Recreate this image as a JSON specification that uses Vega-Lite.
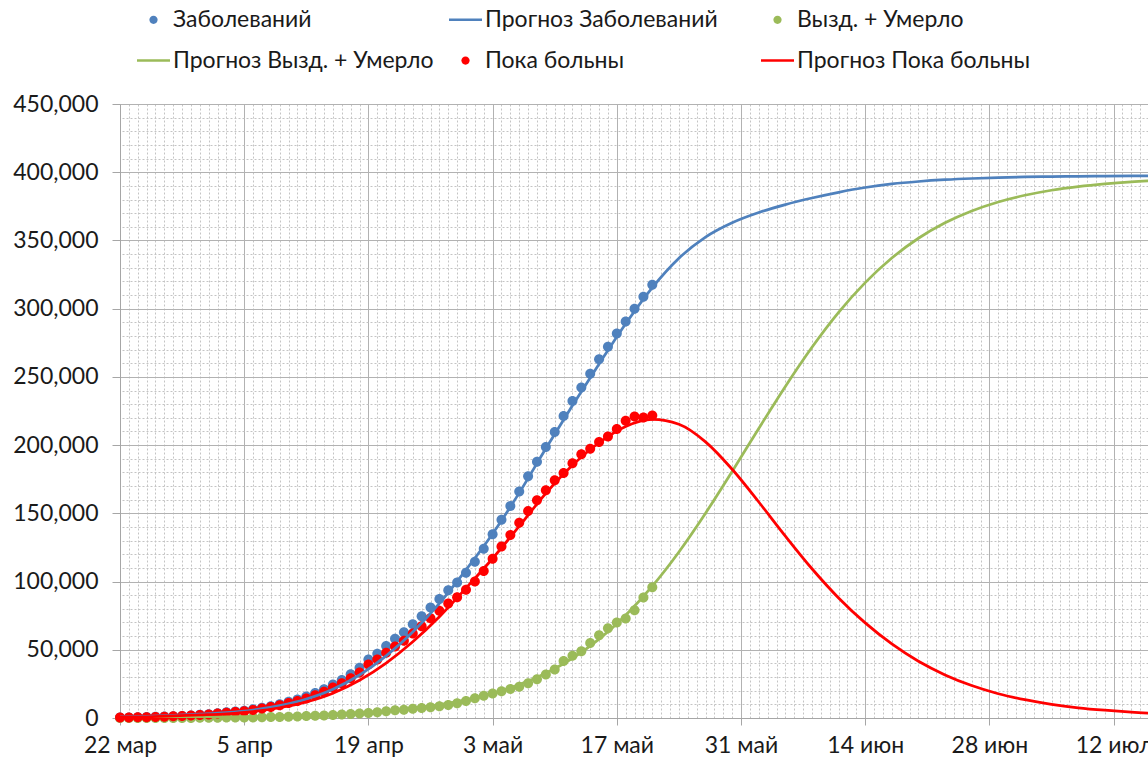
{
  "$schema": "https://vega.github.io/schema/vega-lite/v6.json",
  "width": 1028,
  "height": 614,
  "autosize": {"type": "none"},
  "padding": {"left": 120, "top": 104, "right": 0, "bottom": 44},
  "background": "white",
  "config": {
    "font": "Lato",
    "view": {"stroke": null},
    "axis": {"labelFont": "Lato", "labelFontSize": 23, "labelColor": "#1a1a1a", "domainColor": "#a6a6a6", "tickColor": "#a6a6a6", "gridColor": "#b2b2b2", "gridWidth": 1}
  },
  "datasets": {
    "obs": [
      {"d": "2020-03-22", "s": "Заболеваний", "v": 367},
      {"d": "2020-03-23", "s": "Заболеваний", "v": 438},
      {"d": "2020-03-24", "s": "Заболеваний", "v": 495},
      {"d": "2020-03-25", "s": "Заболеваний", "v": 658},
      {"d": "2020-03-26", "s": "Заболеваний", "v": 840},
      {"d": "2020-03-27", "s": "Заболеваний", "v": 1036},
      {"d": "2020-03-28", "s": "Заболеваний", "v": 1264},
      {"d": "2020-03-29", "s": "Заболеваний", "v": 1534},
      {"d": "2020-03-30", "s": "Заболеваний", "v": 1836},
      {"d": "2020-03-31", "s": "Заболеваний", "v": 2337},
      {"d": "2020-04-01", "s": "Заболеваний", "v": 2777},
      {"d": "2020-04-02", "s": "Заболеваний", "v": 3548},
      {"d": "2020-04-03", "s": "Заболеваний", "v": 4149},
      {"d": "2020-04-04", "s": "Заболеваний", "v": 4731},
      {"d": "2020-04-05", "s": "Заболеваний", "v": 5389},
      {"d": "2020-04-06", "s": "Заболеваний", "v": 6343},
      {"d": "2020-04-07", "s": "Заболеваний", "v": 7497},
      {"d": "2020-04-08", "s": "Заболеваний", "v": 8672},
      {"d": "2020-04-09", "s": "Заболеваний", "v": 10131},
      {"d": "2020-04-10", "s": "Заболеваний", "v": 11917},
      {"d": "2020-04-11", "s": "Заболеваний", "v": 13584},
      {"d": "2020-04-12", "s": "Заболеваний", "v": 15770},
      {"d": "2020-04-13", "s": "Заболеваний", "v": 18328},
      {"d": "2020-04-14", "s": "Заболеваний", "v": 21102},
      {"d": "2020-04-15", "s": "Заболеваний", "v": 24490},
      {"d": "2020-04-16", "s": "Заболеваний", "v": 27938},
      {"d": "2020-04-17", "s": "Заболеваний", "v": 32008},
      {"d": "2020-04-18", "s": "Заболеваний", "v": 36793},
      {"d": "2020-04-19", "s": "Заболеваний", "v": 42853},
      {"d": "2020-04-20", "s": "Заболеваний", "v": 47121},
      {"d": "2020-04-21", "s": "Заболеваний", "v": 52763},
      {"d": "2020-04-22", "s": "Заболеваний", "v": 57999},
      {"d": "2020-04-23", "s": "Заболеваний", "v": 62773},
      {"d": "2020-04-24", "s": "Заболеваний", "v": 68622},
      {"d": "2020-04-25", "s": "Заболеваний", "v": 74588},
      {"d": "2020-04-26", "s": "Заболеваний", "v": 80949},
      {"d": "2020-04-27", "s": "Заболеваний", "v": 87147},
      {"d": "2020-04-28", "s": "Заболеваний", "v": 93558},
      {"d": "2020-04-29", "s": "Заболеваний", "v": 99399},
      {"d": "2020-04-30", "s": "Заболеваний", "v": 106498},
      {"d": "2020-05-01", "s": "Заболеваний", "v": 114431},
      {"d": "2020-05-02", "s": "Заболеваний", "v": 124054},
      {"d": "2020-05-03", "s": "Заболеваний", "v": 134687},
      {"d": "2020-05-04", "s": "Заболеваний", "v": 145268},
      {"d": "2020-05-05", "s": "Заболеваний", "v": 155370},
      {"d": "2020-05-06", "s": "Заболеваний", "v": 165929},
      {"d": "2020-05-07", "s": "Заболеваний", "v": 177160},
      {"d": "2020-05-08", "s": "Заболеваний", "v": 187859},
      {"d": "2020-05-09", "s": "Заболеваний", "v": 198676},
      {"d": "2020-05-10", "s": "Заболеваний", "v": 209688},
      {"d": "2020-05-11", "s": "Заболеваний", "v": 221344},
      {"d": "2020-05-12", "s": "Заболеваний", "v": 232243},
      {"d": "2020-05-13", "s": "Заболеваний", "v": 242271},
      {"d": "2020-05-14", "s": "Заболеваний", "v": 252245},
      {"d": "2020-05-15", "s": "Заболеваний", "v": 262843},
      {"d": "2020-05-16", "s": "Заболеваний", "v": 272043},
      {"d": "2020-05-17", "s": "Заболеваний", "v": 281752},
      {"d": "2020-05-18", "s": "Заболеваний", "v": 290678},
      {"d": "2020-05-19", "s": "Заболеваний", "v": 299941},
      {"d": "2020-05-20", "s": "Заболеваний", "v": 308705},
      {"d": "2020-05-21", "s": "Заболеваний", "v": 317554},
      {"d": "2020-03-22", "s": "Вызд. + Умерло", "v": 17},
      {"d": "2020-03-23", "s": "Вызд. + Умерло", "v": 18},
      {"d": "2020-03-24", "s": "Вызд. + Умерло", "v": 23},
      {"d": "2020-03-25", "s": "Вызд. + Умерло", "v": 32},
      {"d": "2020-03-26", "s": "Вызд. + Умерло", "v": 41},
      {"d": "2020-03-27", "s": "Вызд. + Умерло", "v": 48},
      {"d": "2020-03-28", "s": "Вызд. + Умерло", "v": 53},
      {"d": "2020-03-29", "s": "Вызд. + Умерло", "v": 72},
      {"d": "2020-03-30", "s": "Вызд. + Умерло", "v": 75},
      {"d": "2020-03-31", "s": "Вызд. + Умерло", "v": 138},
      {"d": "2020-04-01", "s": "Вызд. + Умерло", "v": 214},
      {"d": "2020-04-02", "s": "Вызд. + Умерло", "v": 265},
      {"d": "2020-04-03", "s": "Вызд. + Умерло", "v": 315},
      {"d": "2020-04-04", "s": "Вызд. + Умерло", "v": 376},
      {"d": "2020-04-05", "s": "Вызд. + Умерло", "v": 400},
      {"d": "2020-04-06", "s": "Вызд. + Умерло", "v": 453},
      {"d": "2020-04-07", "s": "Вызд. + Умерло", "v": 552},
      {"d": "2020-04-08", "s": "Вызд. + Умерло", "v": 643},
      {"d": "2020-04-09", "s": "Вызд. + Умерло", "v": 774},
      {"d": "2020-04-10", "s": "Вызд. + Умерло", "v": 889},
      {"d": "2020-04-11", "s": "Вызд. + Умерло", "v": 1151},
      {"d": "2020-04-12", "s": "Вызд. + Умерло", "v": 1421},
      {"d": "2020-04-13", "s": "Вызд. + Умерло", "v": 1618},
      {"d": "2020-04-14", "s": "Вызд. + Умерло", "v": 1864},
      {"d": "2020-04-15", "s": "Вызд. + Умерло", "v": 2184},
      {"d": "2020-04-16", "s": "Вызд. + Умерло", "v": 2536},
      {"d": "2020-04-17", "s": "Вызд. + Умерло", "v": 2863},
      {"d": "2020-04-18", "s": "Вызд. + Умерло", "v": 3370},
      {"d": "2020-04-19", "s": "Вызд. + Умерло", "v": 3652},
      {"d": "2020-04-20", "s": "Вызд. + Умерло", "v": 4278},
      {"d": "2020-04-21", "s": "Вызд. + Умерло", "v": 4900},
      {"d": "2020-04-22", "s": "Вызд. + Умерло", "v": 5600},
      {"d": "2020-04-23", "s": "Вызд. + Умерло", "v": 6100},
      {"d": "2020-04-24", "s": "Вызд. + Умерло", "v": 6700},
      {"d": "2020-04-25", "s": "Вызд. + Умерло", "v": 7300},
      {"d": "2020-04-26", "s": "Вызд. + Умерло", "v": 7900},
      {"d": "2020-04-27", "s": "Вызд. + Умерло", "v": 8600},
      {"d": "2020-04-28", "s": "Вызд. + Умерло", "v": 9600},
      {"d": "2020-04-29", "s": "Вызд. + Умерло", "v": 10900},
      {"d": "2020-04-30", "s": "Вызд. + Умерло", "v": 12500},
      {"d": "2020-05-01", "s": "Вызд. + Умерло", "v": 14389},
      {"d": "2020-05-02", "s": "Вызд. + Умерло", "v": 16235},
      {"d": "2020-05-03", "s": "Вызд. + Умерло", "v": 17919},
      {"d": "2020-05-04", "s": "Вызд. + Умерло", "v": 19565},
      {"d": "2020-05-05", "s": "Вызд. + Умерло", "v": 21316},
      {"d": "2020-05-06", "s": "Вызд. + Умерло", "v": 22864},
      {"d": "2020-05-07", "s": "Вызд. + Умерло", "v": 25428},
      {"d": "2020-05-08", "s": "Вызд. + Умерло", "v": 28331},
      {"d": "2020-05-09", "s": "Вызд. + Умерло", "v": 31800},
      {"d": "2020-05-10", "s": "Вызд. + Умерло", "v": 35500},
      {"d": "2020-05-11", "s": "Вызд. + Умерло", "v": 41800},
      {"d": "2020-05-12", "s": "Вызд. + Умерло", "v": 45600},
      {"d": "2020-05-13", "s": "Вызд. + Умерло", "v": 49000},
      {"d": "2020-05-14", "s": "Вызд. + Умерло", "v": 55000},
      {"d": "2020-05-15", "s": "Вызд. + Умерло", "v": 60600},
      {"d": "2020-05-16", "s": "Вызд. + Умерло", "v": 65700},
      {"d": "2020-05-17", "s": "Вызд. + Умерло", "v": 70000},
      {"d": "2020-05-18", "s": "Вызд. + Умерло", "v": 72900},
      {"d": "2020-05-19", "s": "Вызд. + Умерло", "v": 79000},
      {"d": "2020-05-20", "s": "Вызд. + Умерло", "v": 88400},
      {"d": "2020-05-21", "s": "Вызд. + Умерло", "v": 95800},
      {"d": "2020-03-22", "s": "Пока больны", "v": 350},
      {"d": "2020-03-23", "s": "Пока больны", "v": 420},
      {"d": "2020-03-24", "s": "Пока больны", "v": 472},
      {"d": "2020-03-25", "s": "Пока больны", "v": 626},
      {"d": "2020-03-26", "s": "Пока больны", "v": 799},
      {"d": "2020-03-27", "s": "Пока больны", "v": 988},
      {"d": "2020-03-28", "s": "Пока больны", "v": 1211},
      {"d": "2020-03-29", "s": "Пока больны", "v": 1462},
      {"d": "2020-03-30", "s": "Пока больны", "v": 1761},
      {"d": "2020-03-31", "s": "Пока больны", "v": 2199},
      {"d": "2020-04-01", "s": "Пока больны", "v": 2563},
      {"d": "2020-04-02", "s": "Пока больны", "v": 3283},
      {"d": "2020-04-03", "s": "Пока больны", "v": 3834},
      {"d": "2020-04-04", "s": "Пока больны", "v": 4355},
      {"d": "2020-04-05", "s": "Пока больны", "v": 4989},
      {"d": "2020-04-06", "s": "Пока больны", "v": 5890},
      {"d": "2020-04-07", "s": "Пока больны", "v": 6945},
      {"d": "2020-04-08", "s": "Пока больны", "v": 8029},
      {"d": "2020-04-09", "s": "Пока больны", "v": 9357},
      {"d": "2020-04-10", "s": "Пока больны", "v": 11028},
      {"d": "2020-04-11", "s": "Пока больны", "v": 12433},
      {"d": "2020-04-12", "s": "Пока больны", "v": 14349},
      {"d": "2020-04-13", "s": "Пока больны", "v": 16710},
      {"d": "2020-04-14", "s": "Пока больны", "v": 19238},
      {"d": "2020-04-15", "s": "Пока больны", "v": 22306},
      {"d": "2020-04-16", "s": "Пока больны", "v": 25402},
      {"d": "2020-04-17", "s": "Пока больны", "v": 29145},
      {"d": "2020-04-18", "s": "Пока больны", "v": 33423},
      {"d": "2020-04-19", "s": "Пока больны", "v": 39201},
      {"d": "2020-04-20", "s": "Пока больны", "v": 42843},
      {"d": "2020-04-21", "s": "Пока больны", "v": 47863},
      {"d": "2020-04-22", "s": "Пока больны", "v": 52399},
      {"d": "2020-04-23", "s": "Пока больны", "v": 56673},
      {"d": "2020-04-24", "s": "Пока больны", "v": 61922},
      {"d": "2020-04-25", "s": "Пока больны", "v": 67288},
      {"d": "2020-04-26", "s": "Пока больны", "v": 73049},
      {"d": "2020-04-27", "s": "Пока больны", "v": 78547},
      {"d": "2020-04-28", "s": "Пока больны", "v": 83958},
      {"d": "2020-04-29", "s": "Пока больны", "v": 88499},
      {"d": "2020-04-30", "s": "Пока больны", "v": 93998},
      {"d": "2020-05-01", "s": "Пока больны", "v": 100042},
      {"d": "2020-05-02", "s": "Пока больны", "v": 107819},
      {"d": "2020-05-03", "s": "Пока больны", "v": 116768},
      {"d": "2020-05-04", "s": "Пока больны", "v": 125703},
      {"d": "2020-05-05", "s": "Пока больны", "v": 134054},
      {"d": "2020-05-06", "s": "Пока больны", "v": 143065},
      {"d": "2020-05-07", "s": "Пока больны", "v": 151732},
      {"d": "2020-05-08", "s": "Пока больны", "v": 159528},
      {"d": "2020-05-09", "s": "Пока больны", "v": 166876},
      {"d": "2020-05-10", "s": "Пока больны", "v": 174188},
      {"d": "2020-05-11", "s": "Пока больны", "v": 179544},
      {"d": "2020-05-12", "s": "Пока больны", "v": 186643},
      {"d": "2020-05-13", "s": "Пока больны", "v": 193271},
      {"d": "2020-05-14", "s": "Пока больны", "v": 197245},
      {"d": "2020-05-15", "s": "Пока больны", "v": 202243},
      {"d": "2020-05-16", "s": "Пока больны", "v": 206343},
      {"d": "2020-05-17", "s": "Пока больны", "v": 211752},
      {"d": "2020-05-18", "s": "Пока больны", "v": 217778},
      {"d": "2020-05-19", "s": "Пока больны", "v": 220941},
      {"d": "2020-05-20", "s": "Пока больны", "v": 220305},
      {"d": "2020-05-21", "s": "Пока больны", "v": 221754}
    ],
    "fc": [
      {"d": "2020-03-22", "s": "Прогноз Заболеваний", "v": 800},
      {"d": "2020-03-25", "s": "Прогноз Заболеваний", "v": 1200},
      {"d": "2020-03-28", "s": "Прогноз Заболеваний", "v": 1900},
      {"d": "2020-03-31", "s": "Прогноз Заболеваний", "v": 2800},
      {"d": "2020-04-03", "s": "Прогноз Заболеваний", "v": 3900},
      {"d": "2020-04-06", "s": "Прогноз Заболеваний", "v": 5800},
      {"d": "2020-04-09", "s": "Прогноз Заболеваний", "v": 9000},
      {"d": "2020-04-12", "s": "Прогноз Заболеваний", "v": 13800},
      {"d": "2020-04-15", "s": "Прогноз Заболеваний", "v": 21000},
      {"d": "2020-04-18", "s": "Прогноз Заболеваний", "v": 31500},
      {"d": "2020-04-21", "s": "Прогноз Заболеваний", "v": 45500},
      {"d": "2020-04-24", "s": "Прогноз Заболеваний", "v": 63000},
      {"d": "2020-04-27", "s": "Прогноз Заболеваний", "v": 84000},
      {"d": "2020-04-30", "s": "Прогноз Заболеваний", "v": 108500},
      {"d": "2020-05-03", "s": "Прогноз Заболеваний", "v": 135000},
      {"d": "2020-05-06", "s": "Прогноз Заболеваний", "v": 165000},
      {"d": "2020-05-09", "s": "Прогноз Заболеваний", "v": 197500},
      {"d": "2020-05-12", "s": "Прогноз Заболеваний", "v": 229000},
      {"d": "2020-05-15", "s": "Прогноз Заболеваний", "v": 259500},
      {"d": "2020-05-18", "s": "Прогноз Заболеваний", "v": 289000},
      {"d": "2020-05-21", "s": "Прогноз Заболеваний", "v": 315500},
      {"d": "2020-05-24", "s": "Прогноз Заболеваний", "v": 337000},
      {"d": "2020-05-27", "s": "Прогноз Заболеваний", "v": 352500},
      {"d": "2020-05-30", "s": "Прогноз Заболеваний", "v": 363000},
      {"d": "2020-06-02", "s": "Прогноз Заболеваний", "v": 370500},
      {"d": "2020-06-05", "s": "Прогноз Заболеваний", "v": 376300},
      {"d": "2020-06-08", "s": "Прогноз Заболеваний", "v": 381100},
      {"d": "2020-06-11", "s": "Прогноз Заболеваний", "v": 385300},
      {"d": "2020-06-14", "s": "Прогноз Заболеваний", "v": 388800},
      {"d": "2020-06-17", "s": "Прогноз Заболеваний", "v": 391400},
      {"d": "2020-06-20", "s": "Прогноз Заболеваний", "v": 393200},
      {"d": "2020-06-23", "s": "Прогноз Заболеваний", "v": 394500},
      {"d": "2020-06-26", "s": "Прогноз Заболеваний", "v": 395400},
      {"d": "2020-06-29", "s": "Прогноз Заболеваний", "v": 396000},
      {"d": "2020-07-02", "s": "Прогноз Заболеваний", "v": 396500},
      {"d": "2020-07-05", "s": "Прогноз Заболеваний", "v": 396800},
      {"d": "2020-07-08", "s": "Прогноз Заболеваний", "v": 397000},
      {"d": "2020-07-11", "s": "Прогноз Заболеваний", "v": 397200},
      {"d": "2020-07-14", "s": "Прогноз Заболеваний", "v": 397300},
      {"d": "2020-07-17", "s": "Прогноз Заболеваний", "v": 397400},
      {"d": "2020-03-22", "s": "Прогноз Вызд. + Умерло", "v": 221},
      {"d": "2020-03-25", "s": "Прогноз Вызд. + Умерло", "v": 303},
      {"d": "2020-03-28", "s": "Прогноз Вызд. + Умерло", "v": 417},
      {"d": "2020-03-31", "s": "Прогноз Вызд. + Умерло", "v": 573},
      {"d": "2020-04-03", "s": "Прогноз Вызд. + Умерло", "v": 787},
      {"d": "2020-04-06", "s": "Прогноз Вызд. + Умерло", "v": 1081},
      {"d": "2020-04-09", "s": "Прогноз Вызд. + Умерло", "v": 1483},
      {"d": "2020-04-12", "s": "Прогноз Вызд. + Умерло", "v": 2036},
      {"d": "2020-04-15", "s": "Прогноз Вызд. + Умерло", "v": 2793},
      {"d": "2020-04-18", "s": "Прогноз Вызд. + Умерло", "v": 3829},
      {"d": "2020-04-21", "s": "Прогноз Вызд. + Умерло", "v": 5242},
      {"d": "2020-04-24", "s": "Прогноз Вызд. + Умерло", "v": 7163},
      {"d": "2020-04-27", "s": "Прогноз Вызд. + Умерло", "v": 9785},
      {"d": "2020-04-30", "s": "Прогноз Вызд. + Умерло", "v": 13330},
      {"d": "2020-05-03", "s": "Прогноз Вызд. + Умерло", "v": 18090},
      {"d": "2020-05-06", "s": "Прогноз Вызд. + Умерло", "v": 24440},
      {"d": "2020-05-09", "s": "Прогноз Вызд. + Умерло", "v": 32830},
      {"d": "2020-05-12", "s": "Прогноз Вызд. + Умерло", "v": 43780},
      {"d": "2020-05-15", "s": "Прогноз Вызд. + Умерло", "v": 57780},
      {"d": "2020-05-18", "s": "Прогноз Вызд. + Умерло", "v": 75300},
      {"d": "2020-05-21", "s": "Прогноз Вызд. + Умерло", "v": 96640},
      {"d": "2020-05-24", "s": "Прогноз Вызд. + Умерло", "v": 121700},
      {"d": "2020-05-27", "s": "Прогноз Вызд. + Умерло", "v": 150100},
      {"d": "2020-05-30", "s": "Прогноз Вызд. + Умерло", "v": 180700},
      {"d": "2020-06-02", "s": "Прогноз Вызд. + Умерло", "v": 212200},
      {"d": "2020-06-05", "s": "Прогноз Вызд. + Умерло", "v": 243000},
      {"d": "2020-06-08", "s": "Прогноз Вызд. + Умерло", "v": 271700},
      {"d": "2020-06-11", "s": "Прогноз Вызд. + Умерло", "v": 297300},
      {"d": "2020-06-14", "s": "Прогноз Вызд. + Умерло", "v": 319100},
      {"d": "2020-06-17", "s": "Прогноз Вызд. + Умерло", "v": 337100},
      {"d": "2020-06-20", "s": "Прогноз Вызд. + Умерло", "v": 351600},
      {"d": "2020-06-23", "s": "Прогноз Вызд. + Умерло", "v": 362900},
      {"d": "2020-06-26", "s": "Прогноз Вызд. + Умерло", "v": 371600},
      {"d": "2020-06-29", "s": "Прогноз Вызд. + Умерло", "v": 378200},
      {"d": "2020-07-02", "s": "Прогноз Вызд. + Умерло", "v": 383100},
      {"d": "2020-07-05", "s": "Прогноз Вызд. + Умерло", "v": 386800},
      {"d": "2020-07-08", "s": "Прогноз Вызд. + Умерло", "v": 389500},
      {"d": "2020-07-11", "s": "Прогноз Вызд. + Умерло", "v": 391500},
      {"d": "2020-07-14", "s": "Прогноз Вызд. + Умерло", "v": 393000},
      {"d": "2020-07-17", "s": "Прогноз Вызд. + Умерло", "v": 394100},
      {"d": "2020-03-22", "s": "Прогноз Пока больны", "v": 579},
      {"d": "2020-03-25", "s": "Прогноз Пока больны", "v": 897},
      {"d": "2020-03-28", "s": "Прогноз Пока больны", "v": 1483},
      {"d": "2020-03-31", "s": "Прогноз Пока больны", "v": 2227},
      {"d": "2020-04-03", "s": "Прогноз Пока больны", "v": 3113},
      {"d": "2020-04-06", "s": "Прогноз Пока больны", "v": 4719},
      {"d": "2020-04-09", "s": "Прогноз Пока больны", "v": 7517},
      {"d": "2020-04-12", "s": "Прогноз Пока больны", "v": 11764},
      {"d": "2020-04-15", "s": "Прогноз Пока больны", "v": 18207},
      {"d": "2020-04-18", "s": "Прогноз Пока больны", "v": 27671},
      {"d": "2020-04-21", "s": "Прогноз Пока больны", "v": 40258},
      {"d": "2020-04-24", "s": "Прогноз Пока больны", "v": 55837},
      {"d": "2020-04-27", "s": "Прогноз Пока больны", "v": 74215},
      {"d": "2020-04-30", "s": "Прогноз Пока больны", "v": 95170},
      {"d": "2020-05-03", "s": "Прогноз Пока больны", "v": 116910},
      {"d": "2020-05-06", "s": "Прогноз Пока больны", "v": 140560},
      {"d": "2020-05-09", "s": "Прогноз Пока больны", "v": 164670},
      {"d": "2020-05-12", "s": "Прогноз Пока больны", "v": 185220},
      {"d": "2020-05-15", "s": "Прогноз Пока больны", "v": 201720},
      {"d": "2020-05-18", "s": "Прогноз Пока больны", "v": 213700},
      {"d": "2020-05-21", "s": "Прогноз Пока больны", "v": 218860},
      {"d": "2020-05-24", "s": "Прогноз Пока больны", "v": 215300},
      {"d": "2020-05-27", "s": "Прогноз Пока больны", "v": 202400},
      {"d": "2020-05-30", "s": "Прогноз Пока больны", "v": 182300},
      {"d": "2020-06-02", "s": "Прогноз Пока больны", "v": 158300},
      {"d": "2020-06-05", "s": "Прогноз Пока больны", "v": 133300},
      {"d": "2020-06-08", "s": "Прогноз Пока больны", "v": 109400},
      {"d": "2020-06-11", "s": "Прогноз Пока больны", "v": 88000},
      {"d": "2020-06-14", "s": "Прогноз Пока больны", "v": 69700},
      {"d": "2020-06-17", "s": "Прогноз Пока больны", "v": 54300},
      {"d": "2020-06-20", "s": "Прогноз Пока больны", "v": 41600},
      {"d": "2020-06-23", "s": "Прогноз Пока больны", "v": 31600},
      {"d": "2020-06-26", "s": "Прогноз Пока больны", "v": 23800},
      {"d": "2020-06-29", "s": "Прогноз Пока больны", "v": 17800},
      {"d": "2020-07-02", "s": "Прогноз Пока больны", "v": 13400},
      {"d": "2020-07-05", "s": "Прогноз Пока больны", "v": 10000},
      {"d": "2020-07-08", "s": "Прогноз Пока больны", "v": 7500},
      {"d": "2020-07-11", "s": "Прогноз Пока больны", "v": 5700},
      {"d": "2020-07-14", "s": "Прогноз Пока больны", "v": 4300},
      {"d": "2020-07-17", "s": "Прогноз Пока больны", "v": 3300}
    ]
  },
  "encoding": {
    "color": {
      "field": "s",
      "type": "nominal",
      "scale": {
        "domain": ["Заболеваний", "Прогноз Заболеваний", "Вызд. + Умерло", "Прогноз Вызд. + Умерло", "Пока больны", "Прогноз Пока больны"],
        "range": ["#4f81bd", "#4f81bd", "#9bbb59", "#9bbb59", "#ff0000", "#ff0000"]
      },
      "legend": {
        "title": null,
        "orient": "none",
        "legendX": 17,
        "legendY": -101,
        "direction": "horizontal",
        "columns": 3,
        "gridAlign": "all",
        "columnPadding": 15,
        "rowPadding": 12,
        "symbolSize": 1089,
        "symbolStrokeWidth": 0,
        "labelFont": "Lato",
        "labelFontSize": 23,
        "labelColor": "#1a1a1a",
        "labelOffset": 3,
        "labelLimit": 400
      }
    }
  },
  "layer": [
    {
      "data": {"name": "obs"},
      "mark": {"type": "point", "filled": true, "size": 1600, "opacity": 1},
      "encoding": {
        "x": {
          "field": "d",
          "type": "temporal",
          "scale": {"type": "utc", "domain": [{"year": 2020, "month": 3, "date": 22, "utc": true}, {"year": 2020, "month": 7, "date": 15, "hours": 21, "utc": true}]},
          "axis": {"orient": "top", "title": null, "grid": true, "gridDash": [2, 2], "gridColor": "#c4c4c4", "labels": false, "ticks": false, "domain": false, "tickCount": {"interval": "day", "step": 1}}
        },
        "y": {
          "field": "v",
          "type": "quantitative",
          "scale": {"domain": [0, 450000], "nice": false},
          "axis": {"orient": "right", "title": null, "grid": true, "gridDash": [2, 2], "gridColor": "#c4c4c4", "labels": false, "ticks": false, "domain": false, "tickCount": 45}
        },
        "shape": {
          "field": "s",
          "type": "nominal",
          "scale": {
            "domain": ["Заболеваний", "Прогноз Заболеваний", "Вызд. + Умерло", "Прогноз Вызд. + Умерло", "Пока больны", "Прогноз Пока больны"],
            "range": [
              "M-0.25,0A0.25,0.25,0,1,1,0.25,0A0.25,0.25,0,1,1,-0.25,0Z",
              "M-1,-0.083H1V0.083H-1Z",
              "M-0.25,0A0.25,0.25,0,1,1,0.25,0A0.25,0.25,0,1,1,-0.25,0Z",
              "M-1,-0.083H1V0.083H-1Z",
              "M-0.25,0A0.25,0.25,0,1,1,0.25,0A0.25,0.25,0,1,1,-0.25,0Z",
              "M-1,-0.083H1V0.083H-1Z"
            ]
          },
          "legend": {
            "title": null,
            "orient": "none",
            "legendX": 17,
            "legendY": -101,
            "direction": "horizontal",
            "columns": 3,
            "gridAlign": "all",
            "columnPadding": 15,
            "rowPadding": 12,
            "symbolSize": 1089,
            "symbolStrokeWidth": 0,
            "labelFont": "Lato",
            "labelFontSize": 23,
            "labelColor": "#1a1a1a",
            "labelOffset": 3,
            "labelLimit": 400
          }
        }
      }
    },
    {
      "data": {"name": "fc"},
      "mark": {"type": "line", "strokeWidth": 2.75, "interpolate": "monotone", "clip": true},
      "encoding": {
        "x": {
          "field": "d",
          "type": "temporal",
          "scale": {"type": "utc", "domain": [{"year": 2020, "month": 3, "date": 22, "utc": true}, {"year": 2020, "month": 7, "date": 15, "hours": 21, "utc": true}]},
          "axis": {
            "orient": "bottom",
            "title": null,
            "grid": true,
            "domain": true,
            "ticks": true,
            "tickSize": 7,
            "labelPadding": 9,
            "labelFlush": false,
            "labelOverlap": false,
            "values": [
              {"year": 2020, "month": 3, "date": 22, "utc": true},
              {"year": 2020, "month": 4, "date": 5, "utc": true},
              {"year": 2020, "month": 4, "date": 19, "utc": true},
              {"year": 2020, "month": 5, "date": 3, "utc": true},
              {"year": 2020, "month": 5, "date": 17, "utc": true},
              {"year": 2020, "month": 5, "date": 31, "utc": true},
              {"year": 2020, "month": 6, "date": 14, "utc": true},
              {"year": 2020, "month": 6, "date": 28, "utc": true},
              {"year": 2020, "month": 7, "date": 12, "utc": true}
            ],
            "labelExpr": "utcdate(datum.value) + ' ' + ['янв','фев','мар','апр','май','июн','июл','авг'][utcmonth(datum.value)]"
          }
        },
        "y": {
          "field": "v",
          "type": "quantitative",
          "scale": {"domain": [0, 450000], "nice": false},
          "axis": {
            "orient": "left",
            "title": null,
            "grid": true,
            "domain": true,
            "ticks": true,
            "tickSize": 8,
            "labelPadding": 14,
            "values": [0, 50000, 100000, 150000, 200000, 250000, 300000, 350000, 400000, 450000],
            "format": ",d"
          }
        }
      }
    }
  ],
  "resolve": {"axis": {"x": "independent", "y": "independent"}}
}
